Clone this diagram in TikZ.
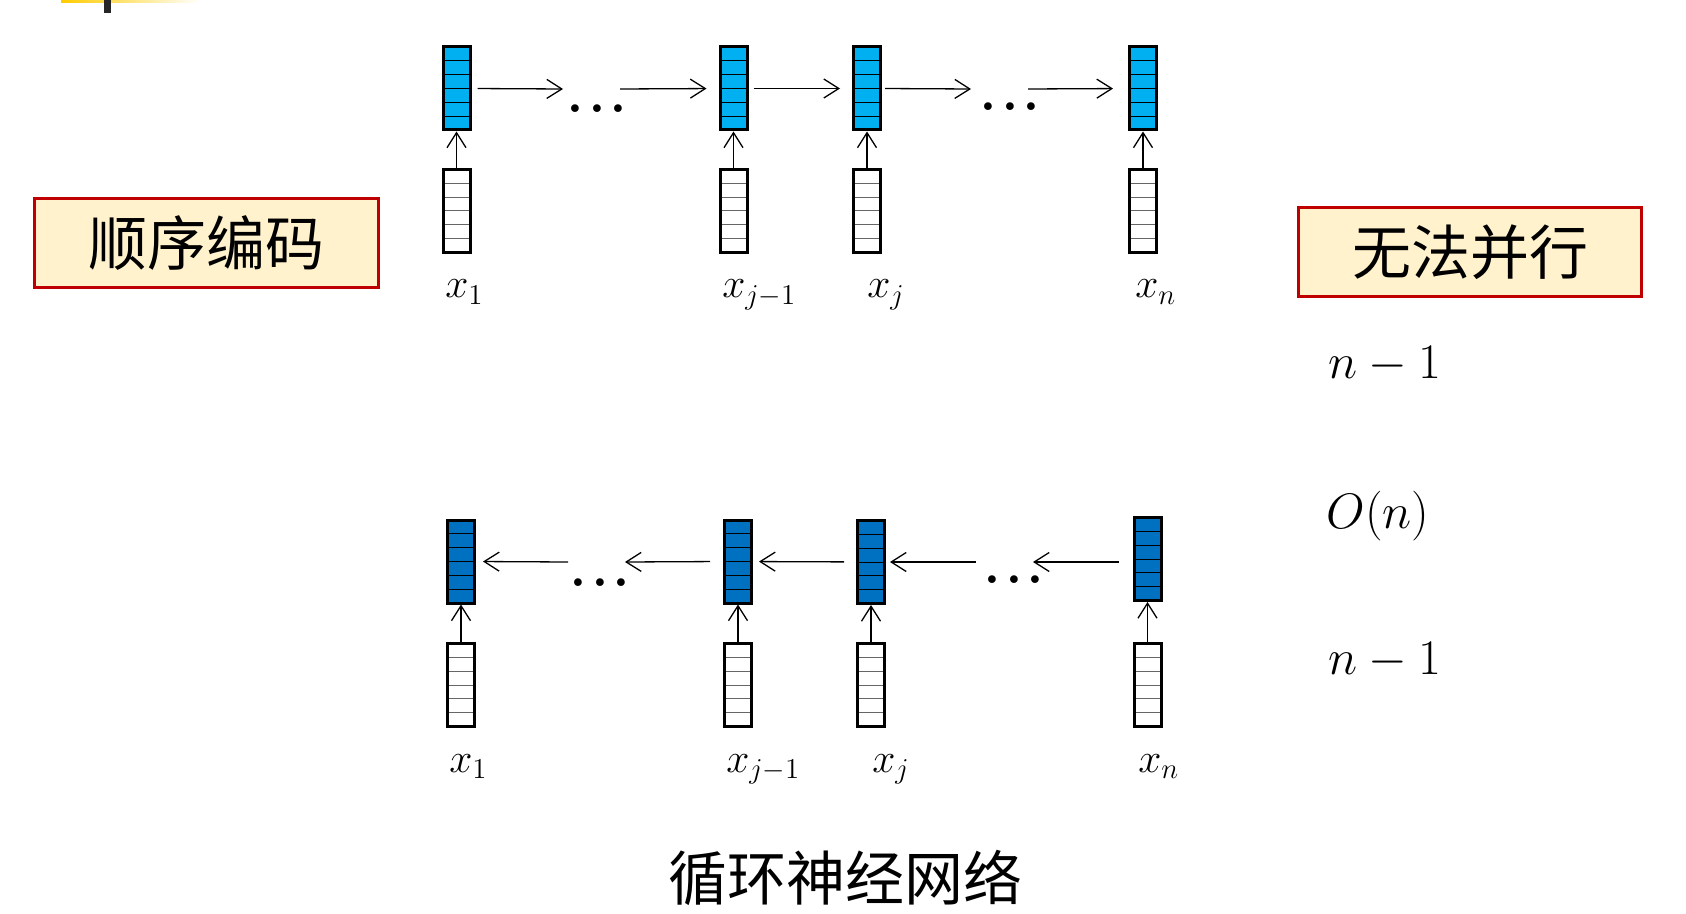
\documentclass[tikz,border=0pt]{standalone}
\usepackage{amsmath}
\usepackage{bm}
\usepackage{fontspec}
\newfontfamily\cjk{Noto Sans CJK SC}
\usetikzlibrary{arrows.meta, calc}
\definecolor{fwblue}{HTML}{00B0F0}
\definecolor{bwblue}{HTML}{0070C0}
\definecolor{tagred}{HTML}{C00000}
\definecolor{tagfill}{HTML}{FFF2CC}
\definecolor{bargold}{HTML}{FFCC00}
\newcommand{\skipdots}{$\bm{.}\mkern2mu\bm{.}\mkern2mu\bm{.}$}
\tikzset{
x=0.5pt, y=-0.5pt, % one unit is one pixel of the slide
>={Straight Barb[length=7.5pt,width=9.5pt]}, % open arrow heads
link/.style={->, line width=0.65pt}, % connectors between the vectors
cell/.style={draw, line width=1.5pt, minimum width=13.5pt, minimum height=41.5pt, inner sep=0pt,
  path picture={\foreach \k in {1,...,5}
    \draw[line width=0.5pt, #1] ($(path picture bounding box.south west)!\k/6!(path picture bounding box.north west)$)
      -- ($(path picture bounding box.south east)!\k/6!(path picture bounding box.north east)$);}}, % a vector of six cells
fwcell/.style={cell=black, fill=fwblue}, % hidden state, left to right
bwcell/.style={cell=black, fill=bwblue}, % hidden state, right to left
incell/.style={cell=black!60, fill=white}, % input vector
tag/.style={draw=tagred, fill=tagfill, line width=1.6pt, font=\cjk\fontsize{29.5}{32}\selectfont, inner sep=0pt}, % the boxed remarks
lbl/.style={anchor=base west, inner sep=0pt, font=\fontsize{19.5}{22}\selectfont}, % x_i under the inputs
cost/.style={anchor=base west, inner sep=0pt, font=\fontsize{25}{28}\selectfont}, % counts on the right
gap/.style={inner sep=0pt, font=\fontsize{24}{24}\selectfont}, % the dots
}
\begin{document}
\begin{tikzpicture}
\useasboundingbox (0,0) rectangle (1686,914);
% corner of the slide header
\shade[left color=bargold, middle color=bargold!70, right color=white] (61,0) rectangle (200,2.5);
\fill[black!85] (104,0) rectangle (111,13);

% left to right
\node[fwcell] (fw1) at (456.5,88.5) {};
\node[fwcell] (fw2) at (733.5,88.5) {};
\node[fwcell] (fw3) at (867,88.5) {};
\node[fwcell] (fw4) at (1143,88.5) {};
\node[incell] (fi1) at (456.5,211) {};
\node[incell] (fi2) at (733.5,211) {};
\node[incell] (fi3) at (867,211) {};
\node[incell] (fi4) at (1143,211) {};
\node[gap] (fd1) at (597,109) {\skipdots};
\node[gap] (fd2) at (1010,107) {\skipdots};
\coordinate (fa) at (563,89);
\coordinate (fb) at (620,89);
\coordinate (fc) at (971,89);
\coordinate (fe) at (1028,89);
\draw[link, shorten <=3pt] (fw1.east) -- (fa);
\draw[link, shorten >=6pt] (fb) -- (fw2.west);
\draw[link, shorten <=2.5pt, shorten >=6pt] (fw2) -- (fw3);
\draw[link, shorten <=1.5pt] (fw3.east) -- (fc);
\draw[link, shorten >=7.5pt] (fe) -- (fw4.west);
\foreach \i in {1,...,4}
  \draw[link] (fi\i) -- (fw\i);
\node[lbl] (fl1) at (445,298) {$x_1$};
\node[lbl] (fl2) at (722,298) {$x_{j-1}$};
\node[lbl] (fl3) at (867,298) {$x_j$};
\node[lbl] (fl4) at (1135,298) {$x_n$};

% right to left
\node[bwcell] (bw1) at (461,561.5) {};
\node[bwcell] (bw2) at (738,561.5) {};
\node[bwcell] (bw3) at (871,562) {};
\node[bwcell] (bw4) at (1147.5,559) {};
\node[incell] (bi1) at (461,685) {};
\node[incell] (bi2) at (738,685) {};
\node[incell] (bi3) at (871,685) {};
\node[incell] (bi4) at (1147.5,685) {};
\node[gap] (bd1) at (600,583) {\skipdots};
\node[gap] (bd2) at (1014,580) {\skipdots};
\coordinate (ba) at (568,562);
\coordinate (bb) at (625,562);
\coordinate (bc) at (976,562);
\coordinate (be) at (1033,562);
\draw[link, shorten >=3.5pt] (ba) -- (bw1.east);
\draw[link, shorten <=6.5pt] (bw2.west) -- (bb);
\draw[link, shorten <=6pt, shorten >=3pt] (bw3) -- (bw2);
\draw[link, shorten >=2pt] (bc) -- (bw3.east);
\draw[link, shorten <=7pt] (bw4.west |- be) -- (be);
\foreach \i in {1,...,4}
  \draw[link] (bi\i) -- (bw\i);
\node[lbl] (bl1) at (449,772) {$x_1$};
\node[lbl] (bl2) at (726,772) {$x_{j-1}$};
\node[lbl] (bl3) at (872,772) {$x_j$};
\node[lbl] (bl4) at (1138,772) {$x_n$};

% remarks
\node[tag, minimum width=172pt, minimum height=44.5pt] (seq) at (206.5,243) {顺序编码};
\node[tag, minimum width=171.5pt, minimum height=44.5pt] (par) at (1470,252) {无法并行};
\node[cost] (c1) at (1328,379) {$n-1$};
\node[cost] (c2) at (1326,528) {$O(n)$};
\node[cost] (c3) at (1328,674) {$n-1$};
\node[font=\cjk\fontsize{29.5}{32}\selectfont, inner sep=0pt] (rnn) at (845,878) {循环神经网络};
\end{tikzpicture}
\end{document}
